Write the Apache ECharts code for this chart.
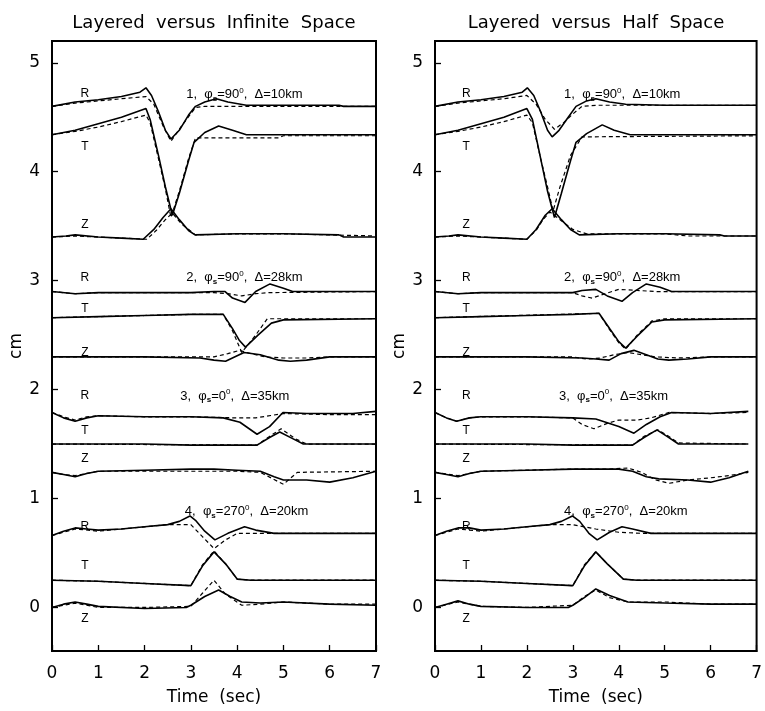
<!DOCTYPE html>
<html>
<head>
<meta charset="utf-8">
<script src="https://cdn.jsdelivr.net/npm/echarts@6/dist/echarts.min.js"></script>
<style>html,body{margin:0;padding:0;background:#fff}#c{width:765px;height:711px}</style>
</head>
<body>
<div id="c"></div>
<script>
// ---------- data: [time (sec), displacement (cm)] ----------
// Left panel: Layered (solid) versus Infinite Space (dashed)
const inf1R  = [[0,4.60],[0.5,4.64],[1.0,4.66],[1.5,4.69],[1.9,4.73],[2.03,4.77],[2.15,4.70],[2.3,4.55],[2.45,4.38],[2.57,4.30],[2.75,4.38],[2.95,4.52],[3.1,4.60],[3.3,4.64],[3.55,4.67],[3.8,4.64],[4.2,4.61],[5,4.61],[6.2,4.61],[6.3,4.60],[7,4.60]];
const inf1Rd = [[0,4.60],[0.5,4.63],[1.0,4.65],[1.5,4.67],[2.03,4.69],[2.2,4.62],[2.4,4.42],[2.57,4.28],[2.8,4.42],[3.1,4.59],[3.3,4.60],[7,4.60]];
const inf1T  = [[0,4.34],[0.5,4.38],[1.0,4.44],[1.5,4.50],[2.03,4.58],[2.12,4.48],[2.3,4.15],[2.45,3.86],[2.6,3.60],[2.75,3.80],[2.95,4.10],[3.07,4.27],[3.3,4.36],[3.6,4.42],[3.9,4.38],[4.2,4.34],[7,4.34]];
const inf1Td = [[0,4.34],[0.5,4.37],[1.0,4.41],[1.5,4.46],[2.03,4.52],[2.12,4.45],[2.3,4.12],[2.45,3.84],[2.57,3.58],[2.75,3.82],[2.95,4.12],[3.1,4.31],[4.9,4.31],[5.0,4.33],[7,4.33]];
const inf1Z  = [[0,3.40],[0.3,3.41],[0.5,3.42],[1.0,3.40],[1.5,3.39],[1.97,3.38],[2.2,3.47],[2.4,3.58],[2.57,3.66],[2.75,3.56],[2.95,3.46],[3.09,3.42],[4.0,3.43],[5.0,3.43],[6.2,3.42],[6.3,3.40],[7,3.40]];
const inf1Zd = [[0,3.40],[0.5,3.41],[1.0,3.40],[2.05,3.38],[2.25,3.46],[2.45,3.56],[2.6,3.62],[2.8,3.52],[3.1,3.42],[4.0,3.43],[5.0,3.43],[7,3.41]];

const inf2R  = [[0,2.90],[0.5,2.88],[1.0,2.89],[3.0,2.89],[3.5,2.90],[3.74,2.90],[3.9,2.84],[4.17,2.80],[4.4,2.90],[4.71,2.97],[5.0,2.93],[5.2,2.90],[7,2.90]];
const inf2Rd = [[0,2.90],[0.5,2.88],[1.0,2.89],[3.5,2.89],[3.8,2.88],[4.1,2.86],[4.4,2.88],[4.7,2.89],[7,2.90]];
const inf2T  = [[0,2.66],[1,2.67],[2,2.68],[3,2.69],[3.7,2.69],[3.9,2.56],[4.05,2.45],[4.18,2.39],[4.45,2.50],[4.74,2.61],[5.0,2.64],[7,2.65]];
const inf2Td = [[0,2.66],[1,2.67],[2,2.68],[3,2.69],[3.7,2.69],[3.9,2.54],[4.1,2.34],[4.4,2.50],[4.65,2.65],[7,2.65]];
const inf2Z  = [[0,2.30],[1,2.30],[2,2.30],[3.2,2.29],[3.5,2.27],[3.75,2.26],[4.0,2.31],[4.15,2.34],[4.5,2.32],[4.9,2.27],[5.15,2.26],[5.5,2.27],[6,2.30],[7,2.30]];
const inf2Zd = [[0,2.30],[3.5,2.30],[3.8,2.33],[4.05,2.36],[4.3,2.33],[4.6,2.30],[5.0,2.29],[5.5,2.29],[6,2.30],[7,2.30]];

const inf3R  = [[0,1.79],[0.25,1.74],[0.5,1.71],[0.75,1.74],[1.0,1.76],[2,1.75],[3,1.75],[3.7,1.74],[4.06,1.70],[4.43,1.59],[4.7,1.66],[4.99,1.79],[5.5,1.78],[6.5,1.78],[7,1.80]];
const inf3Rd = [[0,1.79],[0.25,1.75],[0.5,1.72],[0.75,1.75],[1.0,1.76],[2,1.75],[3,1.75],[4.0,1.74],[4.4,1.74],[4.7,1.76],[4.99,1.78],[6,1.77],[7,1.77]];
const inf3T  = [[0,1.50],[1,1.50],[2,1.50],[3,1.49],[4.43,1.49],[4.7,1.56],[4.92,1.61],[5.2,1.55],[5.43,1.50],[7,1.50]];
const inf3Td = [[0,1.50],[4.43,1.49],[4.7,1.57],[4.95,1.64],[5.25,1.55],[5.5,1.50],[7,1.50]];
const inf3Z  = [[0,1.24],[0.25,1.22],[0.5,1.20],[0.75,1.23],[1.0,1.25],[2,1.26],[3,1.27],[3.5,1.27],[4.0,1.26],[4.5,1.25],[4.8,1.20],[5.0,1.17],[5.5,1.17],[6.0,1.15],[6.5,1.19],[7,1.25]];
const inf3Zd = [[0,1.24],[0.25,1.22],[0.5,1.21],[0.75,1.23],[1.0,1.25],[2,1.25],[3,1.25],[4,1.25],[4.5,1.24],[5.0,1.13],[5.3,1.24],[7,1.25]];

const inf4R  = [[0,0.66],[0.25,0.70],[0.5,0.73],[0.75,0.72],[1.0,0.71],[1.5,0.72],[2.0,0.74],[2.5,0.76],[2.75,0.79],[2.98,0.84],[3.1,0.80],[3.3,0.70],[3.52,0.62],[3.8,0.68],[4.16,0.74],[4.4,0.71],[4.8,0.68],[7,0.68]];
const inf4Rd = [[0,0.66],[0.5,0.72],[1.0,0.70],[1.5,0.72],[2.0,0.74],[2.5,0.76],[3.0,0.76],[3.25,0.65],[3.5,0.54],[3.75,0.62],[4.0,0.68],[7,0.68]];
const inf4T  = [[0,0.25],[1,0.24],[2,0.22],[3.0,0.20],[3.25,0.38],[3.5,0.51],[3.75,0.40],[4.0,0.26],[4.3,0.25],[7,0.25]];
const inf4Td = [[0,0.25],[1,0.24],[2,0.22],[3.0,0.20],[3.25,0.39],[3.5,0.52],[3.75,0.40],[4.0,0.26],[4.3,0.25],[7,0.25]];
const inf4Z  = [[0,0.00],[0.25,0.03],[0.5,0.05],[0.75,0.03],[1,0.01],[2,-0.01],[2.9,0.00],[3.0,0.02],[3.3,0.10],[3.6,0.16],[3.85,0.10],[4.1,0.05],[4.5,0.04],[5.0,0.05],[6,0.03],[7,0.02]];
const inf4Zd = [[0,0.00],[0.5,0.04],[1,0.00],[2,0.00],[3.0,0.01],[3.25,0.13],[3.5,0.25],[3.75,0.12],[4.1,0.02],[4.5,0.03],[5.0,0.05],[6,0.03],[7,0.03]];

// Right panel: Layered (solid) versus Half Space (dashed)
const half1R  = [[0,4.60],[0.5,4.64],[1.0,4.66],[1.5,4.69],[1.9,4.73],[2.01,4.77],[2.15,4.70],[2.3,4.55],[2.45,4.38],[2.55,4.32],[2.7,4.38],[2.9,4.50],[3.07,4.60],[3.3,4.65],[3.5,4.67],[3.8,4.64],[4.15,4.62],[5,4.61],[7,4.61]];
const half1Rd = [[0,4.60],[0.5,4.63],[1.0,4.65],[1.5,4.67],[2.0,4.70],[2.2,4.62],[2.4,4.48],[2.6,4.39],[2.8,4.45],[3.0,4.53],[3.2,4.60],[3.5,4.61],[7,4.61]];
const half1T  = [[0,4.34],[0.5,4.38],[1.0,4.44],[1.5,4.50],[2.0,4.58],[2.12,4.48],[2.3,4.12],[2.45,3.82],[2.6,3.58],[2.75,3.80],[2.95,4.10],[3.07,4.27],[3.3,4.35],[3.64,4.43],[3.9,4.38],[4.25,4.34],[7,4.34]];
const half1Td = [[0,4.34],[0.5,4.37],[1.0,4.41],[1.5,4.46],[2.0,4.52],[2.12,4.45],[2.3,4.12],[2.45,3.86],[2.57,3.64],[2.72,3.86],[2.95,4.15],[3.2,4.32],[7,4.33]];
const half1Z  = [[0,3.40],[0.3,3.41],[0.5,3.42],[1.0,3.40],[1.5,3.39],[2.0,3.38],[2.2,3.47],[2.4,3.60],[2.55,3.66],[2.75,3.56],[2.95,3.47],[3.14,3.42],[4.0,3.43],[5.0,3.43],[6.2,3.42],[6.3,3.41],[7,3.41]];
const half1Zd = [[0,3.40],[0.5,3.41],[1.0,3.40],[2.0,3.38],[2.2,3.46],[2.35,3.56],[2.5,3.63],[2.75,3.55],[3.0,3.47],[3.3,3.43],[5.0,3.43],[5.5,3.41],[6.2,3.41],[7,3.41]];

const half2R  = [[0,2.90],[0.5,2.88],[1.0,2.89],[3.0,2.89],[3.2,2.91],[3.5,2.92],[3.75,2.86],[4.07,2.81],[4.3,2.89],[4.6,2.97],[4.9,2.94],[5.15,2.90],[7,2.90]];
const half2Rd = [[0,2.90],[0.5,2.88],[1.0,2.89],[3.0,2.89],[3.2,2.86],[3.42,2.84],[3.7,2.88],[4.0,2.92],[4.4,2.91],[4.8,2.90],[7,2.90]];
const half2T  = [[0,2.66],[1,2.67],[2,2.68],[3,2.69],[3.57,2.70],[3.8,2.56],[4.0,2.44],[4.15,2.38],[4.4,2.49],[4.72,2.62],[5.0,2.64],[7,2.65]];
const half2Td = [[0,2.66],[3.57,2.70],[3.8,2.55],[4.0,2.43],[4.15,2.37],[4.4,2.50],[4.72,2.63],[5.0,2.65],[7,2.65]];
const half2Z  = [[0,2.30],[2,2.30],[3.2,2.29],[3.5,2.28],[3.79,2.27],[4.05,2.33],[4.33,2.36],[4.6,2.32],[4.85,2.28],[5.09,2.27],[5.5,2.28],[6,2.30],[7,2.30]];
const half2Zd = [[0,2.30],[3.0,2.30],[3.3,2.28],[3.6,2.29],[3.9,2.32],[4.2,2.34],[4.5,2.32],[4.8,2.30],[5.3,2.29],[6,2.30],[7,2.30]];

const half3R  = [[0,1.79],[0.25,1.74],[0.47,1.71],[0.75,1.74],[1.0,1.75],[2,1.75],[3,1.74],[3.5,1.73],[4.0,1.66],[4.33,1.60],[4.6,1.68],[4.9,1.75],[5.15,1.79],[6,1.78],[6.82,1.80]];
const half3Rd = [[0,1.79],[0.25,1.74],[0.47,1.71],[0.75,1.74],[1.0,1.75],[2,1.75],[3,1.74],[3.2,1.68],[3.46,1.64],[3.75,1.69],[4.0,1.72],[4.4,1.72],[4.7,1.74],[5.1,1.79],[6,1.78],[6.82,1.79]];
const half3T  = [[0,1.50],[2,1.50],[3,1.49],[4.3,1.49],[4.55,1.56],[4.83,1.63],[5.05,1.57],[5.3,1.50],[6.82,1.50]];
const half3Td = [[0,1.50],[4.3,1.49],[4.55,1.57],[4.85,1.63],[5.05,1.58],[5.3,1.51],[6.82,1.50]];
const half3Z  = [[0,1.24],[0.25,1.22],[0.5,1.20],[0.75,1.23],[1.0,1.25],[2,1.26],[3,1.27],[4.0,1.27],[4.3,1.25],[4.6,1.20],[4.87,1.18],[5.5,1.17],[6.0,1.15],[6.4,1.19],[6.82,1.25]];
const half3Zd = [[0,1.24],[0.5,1.21],[1.0,1.25],[2,1.26],[3,1.27],[3.8,1.27],[4.2,1.28],[4.5,1.24],[4.8,1.17],[5.1,1.14],[5.5,1.17],[6.0,1.19],[6.4,1.21],[6.82,1.24]];

const half4R  = [[0,0.66],[0.25,0.70],[0.5,0.73],[0.75,0.73],[1.0,0.71],[1.5,0.72],[2.0,0.74],[2.5,0.76],[2.75,0.79],[2.99,0.84],[3.15,0.79],[3.35,0.68],[3.53,0.62],[3.8,0.69],[4.07,0.74],[4.3,0.72],[4.7,0.68],[7,0.68]];
const half4Rd = [[0,0.66],[0.5,0.72],[1.0,0.70],[1.5,0.72],[2.0,0.74],[2.5,0.76],[3.0,0.76],[3.5,0.72],[4.0,0.69],[4.5,0.68],[7,0.68]];
const half4T  = [[0,0.25],[1,0.24],[2,0.22],[3.0,0.20],[3.25,0.38],[3.5,0.51],[3.75,0.40],[4.1,0.26],[4.4,0.25],[7,0.25]];
const half4Td = [[0,0.25],[1,0.24],[2,0.22],[3.0,0.20],[3.25,0.39],[3.5,0.51],[3.75,0.40],[4.1,0.26],[4.4,0.25],[7,0.25]];
const half4Z  = [[0,0.00],[0.25,0.03],[0.5,0.06],[0.75,0.03],[1,0.01],[2,0.00],[2.9,0.00],[3.0,0.02],[3.25,0.09],[3.5,0.17],[3.8,0.11],[4.2,0.05],[5.0,0.04],[6,0.03],[7,0.03]];
const half4Zd = [[0,0.00],[0.5,0.05],[1,0.01],[2,0.00],[3.0,0.02],[3.25,0.10],[3.5,0.16],[3.8,0.09],[4.2,0.05],[5.0,0.05],[6,0.03],[7,0.03]];

// ---------- labels ----------
const panelTitles = ['Layered  versus  Infinite  Space', 'Layered  versus  Half  Space'];
const xTickValues = [0,1,2,3,4,5,6,7];
const yTickValues = [0,1,2,3,4,5];
const xAxisName = 'Time  (sec)';
const yAxisName = 'cm';
const componentLetters = ['R','T','Z'];
const caseLabels = [
  '1,  φ{s|s}=90{o|0},  Δ=10km',
  '2,  φ{s|s}=90{o|0},  Δ=28km',
  '3,  φ{s|s}=0{o|0},  Δ=35km',
  '4,  φ{s|s}=270{o|0},  Δ=20km'
];
// annotation anchors in data coordinates (time, cm)
const letterAnchorsLeft  = [[0.71,4.72],[0.71,4.23],[0.71,3.51],[0.71,3.03],[0.71,2.74],[0.71,2.34],[0.71,1.94],[0.71,1.62],[0.71,1.37],[0.71,0.74],[0.71,0.38],[0.71,-0.10]];
const letterAnchorsRight = [[0.68,4.72],[0.68,4.23],[0.68,3.51],[0.68,3.03],[0.68,2.74],[0.68,2.34],[0.68,1.94],[0.68,1.62],[0.68,1.37],[0.68,0.74],[0.68,0.38],[0.68,-0.10]];
const caseAnchorsLeft  = [[2.90,4.71],[2.90,3.03],[2.77,1.94],[2.87,0.88]];
const caseAnchorsRight = [[2.81,4.71],[2.81,3.03],[2.70,1.94],[2.81,0.88]];

const panels = [
  { traces: [inf1R,inf1T,inf1Z,inf2R,inf2T,inf2Z,inf3R,inf3T,inf3Z,inf4R,inf4T,inf4Z],
    dashed: [inf1Rd,inf1Td,inf1Zd,inf2Rd,inf2Td,inf2Zd,inf3Rd,inf3Td,inf3Zd,inf4Rd,inf4Td,inf4Zd],
    letters: letterAnchorsLeft, cases: caseAnchorsLeft },
  { traces: [half1R,half1T,half1Z,half2R,half2T,half2Z,half3R,half3T,half3Z,half4R,half4T,half4Z],
    dashed: [half1Rd,half1Td,half1Zd,half2Rd,half2Td,half2Zd,half3Rd,half3Td,half3Zd,half4Rd,half4Td,half4Zd],
    letters: letterAnchorsRight, cases: caseAnchorsRight }
];

// ---------- chart ----------
const FONT = 'DejaVu Sans';
const grids = [
  { left: 52, top: 41, width: 324, height: 616 },
  { left: 435, top: 41, width: 323, height: 616 }
];
const xAxes = [], yAxes = [], series = [];
grids.forEach((g, i) => {
  g.show = true; g.borderColor = '#000'; g.borderWidth = 2; g.backgroundColor = 'transparent';
  xAxes.push({
    type: 'value', gridIndex: i, min: 0, max: 7, interval: 1,
    name: xAxisName, nameLocation: 'middle', nameGap: 38,
    nameTextStyle: { fontFamily: FONT, fontSize: 17, color: '#000' },
    axisLine: { show: true, onZero: false, lineStyle: { color: '#000', width: 2 } },
    axisTick: { show: true, inside: true, length: 6, lineStyle: { color: '#000', width: 1.3 }, customValues: xTickValues },
    axisLabel: { fontFamily: FONT, fontSize: 17, color: '#000', margin: 14, customValues: xTickValues },
    splitLine: { show: false }
  });
  yAxes.push({
    type: 'value', gridIndex: i, min: -0.4, max: 5.2,
    name: yAxisName, nameLocation: 'middle', nameGap: 26,
    nameTextStyle: { fontFamily: FONT, fontSize: 17, color: '#000' },
    axisLine: { show: true, onZero: false, lineStyle: { color: '#000', width: 2 } },
    axisTick: { show: true, inside: true, length: 6, lineStyle: { color: '#000', width: 1.3 }, customValues: yTickValues },
    axisLabel: { fontFamily: FONT, fontSize: 17, color: '#000', margin: 12, customValues: yTickValues },
    splitLine: { show: false }
  });
  const p = panels[i];
  p.traces.forEach(d => series.push({
    type: 'line', xAxisIndex: i, yAxisIndex: i, data: d, showSymbol: false, symbol: 'none',
    lineStyle: { color: '#000', width: 1.6 }, silent: true, z: 3
  }));
  p.dashed.forEach(d => series.push({
    type: 'line', xAxisIndex: i, yAxisIndex: i, data: d, showSymbol: false, symbol: 'none',
    lineStyle: { color: '#000', width: 1.2, type: [4, 3] }, silent: true, z: 2
  }));
  series.push({
    type: 'scatter', xAxisIndex: i, yAxisIndex: i, symbolSize: 0, silent: true, z: 4,
    itemStyle: { opacity: 1, color: '#000' },
    data: p.letters.map((a, k) => ({ value: a, label: { formatter: componentLetters[k % 3] } })),
    label: { show: true, position: 'inside', align: 'center', verticalAlign: 'middle',
      fontFamily: 'Liberation Sans', fontSize: 12, color: '#000', opacity: 1 }
  });
  series.push({
    type: 'scatter', xAxisIndex: i, yAxisIndex: i, symbolSize: 0, silent: true, z: 4,
    itemStyle: { opacity: 1, color: '#000' },
    data: p.cases.map((a, k) => ({ value: a, label: { formatter: caseLabels[k] } })),
    label: { show: true, position: 'inside', align: 'left', verticalAlign: 'middle',
      fontFamily: 'Liberation Sans', fontSize: 13, color: '#000', lineHeight: 16, opacity: 1,
      rich: {
        s: { fontFamily: 'Liberation Sans', fontSize: 8, fontWeight: 'bold', color: '#000', verticalAlign: 'bottom', lineHeight: 16 },
        o: { fontFamily: 'Liberation Sans', fontSize: 8, color: '#000', verticalAlign: 'top', lineHeight: 16 }
      } }
  });
});

const chart = echarts.init(document.getElementById('c'), null, { renderer: 'canvas' });
chart.setOption({
  animation: false,
  backgroundColor: '#fff',
  graphic: [
    { type: 'text', x: 214, y: 23, style: { text: panelTitles[0], fontFamily: FONT, fontSize: 18, fill: '#000', align: 'center', verticalAlign: 'middle' } },
    { type: 'text', x: 596, y: 23, style: { text: panelTitles[1], fontFamily: FONT, fontSize: 18, fill: '#000', align: 'center', verticalAlign: 'middle' } }
  ],
  grid: grids,
  xAxis: xAxes,
  yAxis: yAxes,
  series: series
});
</script>
</body>
</html>
